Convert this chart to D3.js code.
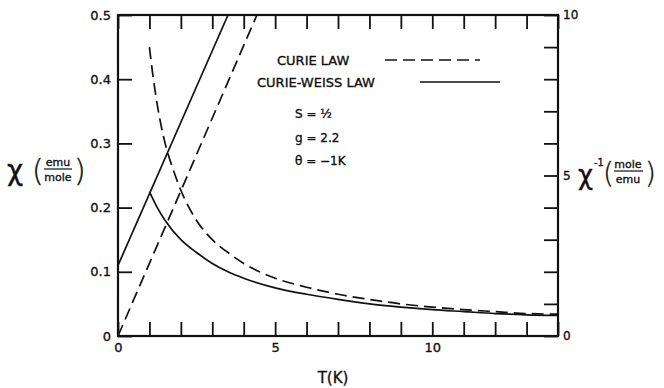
<!DOCTYPE html>
<html>
<head>
<meta charset="utf-8">
<script src="https://cdn.jsdelivr.net/npm/d3@7"></script>
<style>
  body { margin: 0; background: #fff; }
  svg text { font-family: "DejaVu Sans", sans-serif; fill: #111; stroke: #111; stroke-width: 0.35px; }
</style>
</head>
<body>
<script>
var width = 664;
var height = 388;

// Curie law, chi (emu/mole)
var curieT   = [1, 1.1, 1.25, 1.5, 1.75, 2, 2.5, 3, 3.5, 4, 5, 6, 7, 8, 9, 10, 11, 12, 13, 14];
var curieChi = [0.45, 0.41, 0.36, 0.30, 0.26, 0.227, 0.18, 0.15, 0.13, 0.113, 0.09, 0.076, 0.065, 0.057, 0.05, 0.045, 0.041, 0.038, 0.035, 0.034];

// Curie-Weiss law, chi
var weissT   = [1, 1.25, 1.5, 2, 2.5, 3, 3.5, 4, 5, 6, 7, 8, 9, 10, 11, 12, 13, 14];
var weissChi = [0.225, 0.20, 0.18, 0.15, 0.13, 0.113, 0.10, 0.09, 0.075, 0.065, 0.057, 0.05, 0.045, 0.041, 0.038, 0.035, 0.033, 0.032];

// inverse susceptibility lines (mole/emu), right axis
var curieInvT = [0, 4.42];
var curieInv  = [0, 10];
var weissInvT = [0, 3.5];
var weissInv  = [2.2, 10];

var xTicks = [0,1,2,3,4,5,6,7,8,9,10,11,12,13,14];
var xLabels = [0, 5, 10];
var yTicks = [0, 0.1, 0.2, 0.3, 0.4, 0.5];
var yLabels = ["0", "0.1", "0.2", "0.3", "0.4", "0.5"];
var y2Ticks = [0,1,2,3,4,5,6,7,8,9,10];
var y2Labels = [0, 5, 10];

var pl = 118, pr = 558, pt = 15, pb = 336;
var tick = 14;

var svg = d3.select("body").append("svg")
  .attr("width", width)
  .attr("height", height);

var x = d3.scaleLinear().domain([0, 14]).range([pl, pr]);
var y = d3.scaleLinear().domain([0, 0.5]).range([pb, pt]);
var y2 = d3.scaleLinear().domain([0, 10]).range([pb, pt]);

// axes, ticks pointing inward
function styleAxis(g) {
  g.select(".domain").remove();
  g.selectAll(".tick line").attr("stroke", "#111").attr("stroke-width", 1.8);
  g.selectAll(".tick text").attr("fill", "#111").style("font-family", "DejaVu Sans");
}

svg.append("g")
  .attr("transform", "translate(0," + pb + ")")
  .call(d3.axisBottom(x).tickValues(xTicks).tickSizeInner(-tick).tickSizeOuter(0).tickPadding(7)
    .tickFormat(function(d) { return xLabels.indexOf(d) >= 0 ? d : ""; }))
  .call(styleAxis)
  .selectAll(".tick text").style("font-size", "13px");

svg.append("g")
  .attr("transform", "translate(0," + pt + ")")
  .call(d3.axisTop(x).tickValues(xTicks).tickSizeInner(-tick).tickSizeOuter(0).tickFormat(""))
  .call(styleAxis);

svg.append("g")
  .attr("transform", "translate(" + pl + ",0)")
  .call(d3.axisLeft(y).tickValues(yTicks).tickSizeInner(-tick).tickSizeOuter(0).tickPadding(7)
    .tickFormat(function(d, i) { return yLabels[i]; }))
  .call(styleAxis)
  .selectAll(".tick text").style("font-size", "13px");

svg.append("g")
  .attr("transform", "translate(" + pr + ",0)")
  .call(d3.axisRight(y2).tickValues(y2Ticks).tickSizeInner(-tick).tickSizeOuter(0).tickPadding(5)
    .tickFormat(function(d) { return y2Labels.indexOf(d) >= 0 ? d : ""; }))
  .call(styleAxis)
  .selectAll(".tick text").style("font-size", "12px");

// frame
svg.append("rect")
  .attr("x", pl).attr("y", pt)
  .attr("width", pr - pl).attr("height", pb - pt)
  .attr("fill", "none").attr("stroke", "#111").attr("stroke-width", 2.2);

var chiLine = d3.line()
  .x(function(d) { return x(d[0]); })
  .y(function(d) { return y(d[1]); })
  .curve(d3.curveMonotoneX);

var invLine = d3.line()
  .x(function(d) { return x(d[0]); })
  .y(function(d) { return y2(d[1]); });

var plot = svg.append("g");

plot.append("path")
  .datum(d3.zip(curieT, curieChi))
  .attr("d", chiLine)
  .attr("fill", "none").attr("stroke", "#111").attr("stroke-width", 1.7)
  .attr("stroke-dasharray", "12,6");

plot.append("path")
  .datum(d3.zip(weissT, weissChi))
  .attr("d", chiLine)
  .attr("fill", "none").attr("stroke", "#111").attr("stroke-width", 1.7);

plot.append("path")
  .datum(d3.zip(curieInvT, curieInv))
  .attr("d", invLine)
  .attr("fill", "none").attr("stroke", "#111").attr("stroke-width", 1.7)
  .attr("stroke-dasharray", "12,6");

plot.append("path")
  .datum(d3.zip(weissInvT, weissInv))
  .attr("d", invLine)
  .attr("fill", "none").attr("stroke", "#111").attr("stroke-width", 1.7);

// legend
svg.append("text").attr("x", 277).attr("y", 65).style("font-size", "13px").text("CURIE LAW");
svg.append("line").attr("x1", 385).attr("x2", 480).attr("y1", 60).attr("y2", 60)
  .attr("stroke", "#111").attr("stroke-width", 1.7).attr("stroke-dasharray", "12,6");
svg.append("text").attr("x", 257).attr("y", 87).style("font-size", "13px").text("CURIE-WEISS LAW");
svg.append("line").attr("x1", 420).attr("x2", 500).attr("y1", 82).attr("y2", 82)
  .attr("stroke", "#111").attr("stroke-width", 1.7);

// parameters
svg.append("text").attr("x", 295).attr("y", 118).style("font-size", "12px").text("S = \u00bd");
svg.append("text").attr("x", 295).attr("y", 142).style("font-size", "12px").text("g = 2.2");
svg.append("text").attr("x", 295).attr("y", 165).style("font-size", "12px").text("\u03b8 = \u22121K");

// x title
svg.append("text").attr("x", 333).attr("y", 383).attr("text-anchor", "middle")
  .style("font-size", "15px").text("T(K)");

// left y title
var lt = svg.append("g");
lt.append("text").attr("x", 7).attr("y", 180).style("font-size", "28px").text("\u03c7");
lt.append("text").attr("x", 32).attr("y", 181).style("font-size", "30px").style("font-weight", "200").text("(");
lt.append("text").attr("x", 58).attr("y", 166).attr("text-anchor", "middle").style("font-size", "11px").text("emu");
lt.append("line").attr("x1", 44).attr("x2", 72).attr("y1", 169).attr("y2", 169).attr("stroke", "#111").attr("stroke-width", 1.2);
lt.append("text").attr("x", 58).attr("y", 181).attr("text-anchor", "middle").style("font-size", "11px").text("mole");
lt.append("text").attr("x", 74).attr("y", 181).style("font-size", "30px").style("font-weight", "200").text(")");

// right y title
var rt = svg.append("g");
rt.append("text").attr("x", 578).attr("y", 184).style("font-size", "26px").text("\u03c7");
rt.append("text").attr("x", 594).attr("y", 166).style("font-size", "10px").text("-1");
rt.append("text").attr("x", 603).attr("y", 183).style("font-size", "28px").style("font-weight", "200").text("(");
rt.append("text").attr("x", 628).attr("y", 168).attr("text-anchor", "middle").style("font-size", "11px").text("mole");
rt.append("line").attr("x1", 614).attr("x2", 643).attr("y1", 171).attr("y2", 171).attr("stroke", "#111").attr("stroke-width", 1.2);
rt.append("text").attr("x", 628).attr("y", 183).attr("text-anchor", "middle").style("font-size", "11px").text("emu");
rt.append("text").attr("x", 645).attr("y", 183).style("font-size", "28px").style("font-weight", "200").text(")");
</script>
</body>
</html>
